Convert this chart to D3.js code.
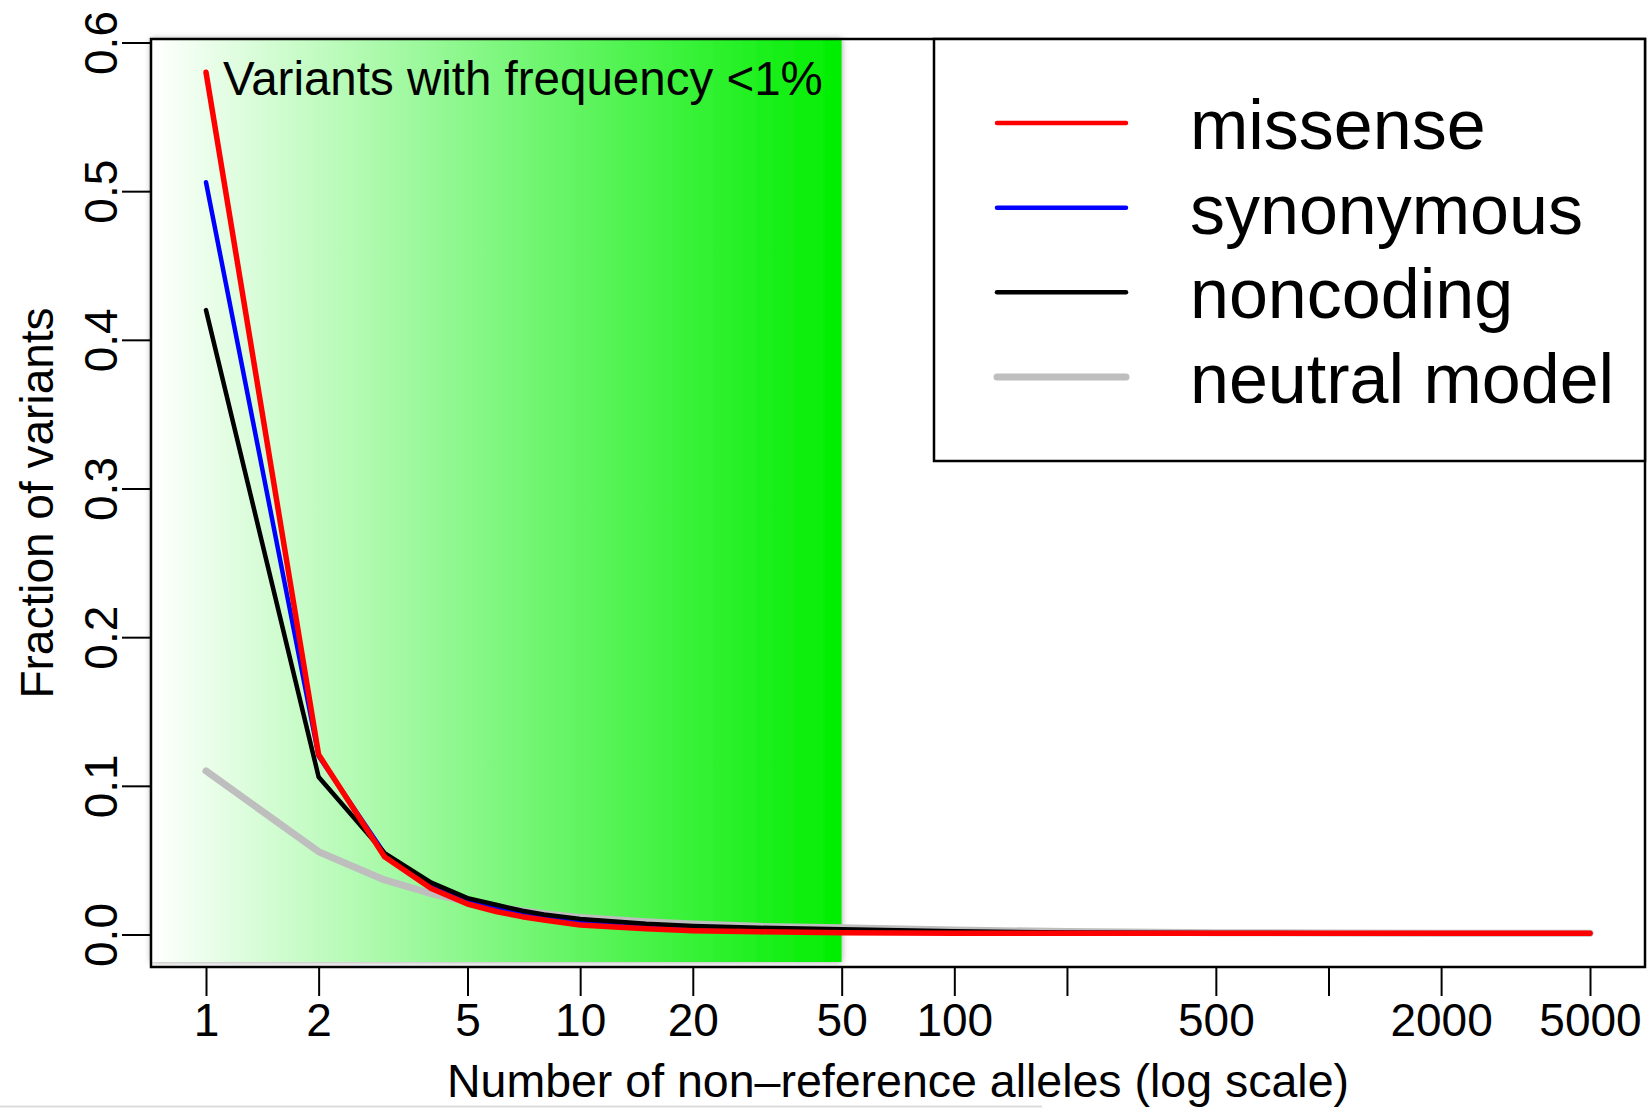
<!DOCTYPE html>
<html>
<head>
<meta charset="utf-8">
<script src="https://cdn.jsdelivr.net/npm/d3@7"></script>
<style>
  body { margin: 0; background: #fff; }
  svg { display: block; font-family: "Liberation Sans", Arial, Helvetica, sans-serif; }
</style>
</head>
<body>
<script>
// number of non-reference alleles (x values)
var alleles = [1, 2, 3, 4, 5, 6, 7, 8, 10, 15, 20, 30, 50, 100, 200, 500, 1000, 2000, 5000];

// fraction of variants
var missense    = [0.580, 0.121, 0.0523, 0.031, 0.0205, 0.0153, 0.012, 0.0097, 0.0064, 0.0038, 0.0026, 0.0018, 0.0012, 0.0009, 0.0008, 0.0008, 0.0008, 0.0008, 0.0008];
var synonymous  = [0.506, 0.120, 0.0545, 0.033, 0.0225, 0.017, 0.0135, 0.011, 0.0085, 0.0055, 0.004, 0.0028, 0.002, 0.0013, 0.001, 0.0009, 0.0008, 0.0008, 0.0008];
var noncoding   = [0.420, 0.106, 0.0548, 0.0349, 0.0245, 0.0198, 0.016, 0.0135, 0.0105, 0.0072, 0.0057, 0.0045, 0.0035, 0.0022, 0.0014, 0.001, 0.0009, 0.0008, 0.0008];
var neutral     = [0.110, 0.0557, 0.0367, 0.0275, 0.022, 0.0185, 0.016, 0.014, 0.0115, 0.0085, 0.007, 0.0055, 0.0045, 0.003, 0.002, 0.0012, 0.001, 0.0009, 0.0008];

var seriesNames = ["missense", "synonymous", "noncoding", "neutral model"];
var xTicks = [1, 2, 5, 10, 20, 50, 100, 200, 500, 1000, 2000, 5000];
var xTickLabels = ["1", "2", "5", "10", "20", "50", "100", "", "500", "", "2000", "5000"];
var yTicks = [0, 0.1, 0.2, 0.3, 0.4, 0.5, 0.6];
var rareCutoff = 50;

var width = 1648, height = 1108;
var box = {left: 151, top: 39, right: 1645, bottom: 967};

var x = d3.scaleLog().domain([1, 5000]).range([206, 1590]);
var y = d3.scaleLinear().domain([0, 0.6]).range([934.5, 42.5]);

var svg = d3.select("body").append("svg")
    .attr("width", width)
    .attr("height", height);

var defs = svg.append("defs");
var grad = defs.append("linearGradient").attr("id", "rare")
    .attr("x1", "0%").attr("x2", "100%").attr("y1", "0%").attr("y2", "0%");
grad.append("stop").attr("offset", "0%").attr("stop-color", "#ffffff");
grad.append("stop").attr("offset", "100%").attr("stop-color", "#00ee00");

var shadow = defs.append("filter").attr("id", "shadow")
    .attr("x", "-5%").attr("y", "-5%").attr("width", "110%").attr("height", "110%");
shadow.append("feDropShadow")
    .attr("dx", 0).attr("dy", 0).attr("stdDeviation", 3)
    .attr("flood-color", "#777").attr("flood-opacity", 0.7);

// faint line at the very bottom of the original image
svg.append("line")
    .attr("x1", 0).attr("x2", 1042).attr("y1", 1106.5).attr("y2", 1106.5)
    .attr("stroke", "#dcdcdc").attr("stroke-width", 2);

// shaded rare-variant region
svg.append("rect")
    .attr("x", box.left)
    .attr("y", box.top)
    .attr("width", x(rareCutoff) - box.left)
    .attr("height", 962 - box.top)
    .attr("fill", "url(#rare)")
    .attr("filter", "url(#shadow)");

svg.append("text")
    .attr("x", 223).attr("y", 95)
    .attr("font-size", 47.5)
    .text("Variants with frequency <1%");

var line = d3.line()
    .x(function(d, i) { return x(alleles[i]); })
    .y(function(d) { return y(d); });

var series = [
  {name: seriesNames[3], values: neutral, color: "#bebebe", w: 7},
  {name: seriesNames[1], values: synonymous, color: "#0000ff", w: 4.5},
  {name: seriesNames[2], values: noncoding, color: "#000000", w: 4.5},
  {name: seriesNames[0], values: missense, color: "#ff0000", w: 5.5}
];

svg.selectAll("path.series")
    .data(series)
  .enter().append("path")
    .attr("class", "series")
    .attr("d", function(s) { return line(s.values); })
    .attr("fill", "none")
    .attr("stroke", function(s) { return s.color; })
    .attr("stroke-width", function(s) { return s.w; })
    .attr("stroke-linecap", "round")
    .attr("stroke-linejoin", "round");

// plot frame
svg.append("rect")
    .attr("x", box.left).attr("y", box.top)
    .attr("width", box.right - box.left).attr("height", box.bottom - box.top)
    .attr("fill", "none").attr("stroke", "#000").attr("stroke-width", 2.5);

// x axis
var xAxis = d3.axisBottom(x)
    .tickValues(xTicks)
    .tickSize(29)
    .tickPadding(7)
    .tickFormat(function(d, i) { return xTickLabels[i]; });

var gx = svg.append("g")
    .attr("transform", "translate(0," + box.bottom + ")")
    .call(xAxis);
gx.select(".domain").remove();
gx.selectAll(".tick line").attr("stroke", "#000").attr("stroke-width", 2);
gx.selectAll(".tick text")
    .attr("font-size", 46)
    .attr("font-family", "Liberation Sans, Arial, sans-serif")
    .attr("fill", "#000");

// y axis, labels rotated as in base R
var yAxis = d3.axisLeft(y)
    .tickValues(yTicks)
    .tickSize(29)
    .tickFormat(d3.format(".1f"));

var gy = svg.append("g")
    .attr("transform", "translate(" + box.left + ",0)")
    .call(yAxis);
gy.select(".domain").remove();
gy.selectAll(".tick line").attr("stroke", "#000").attr("stroke-width", 2);
gy.selectAll(".tick text")
    .attr("font-size", 46)
    .attr("font-family", "Liberation Sans, Arial, sans-serif")
    .attr("fill", "#000")
    .attr("x", null).attr("dy", null)
    .attr("text-anchor", "middle")
    .attr("transform", "translate(-34,0) rotate(-90)");

svg.append("text")
    .attr("x", (box.left + box.right) / 2)
    .attr("y", 1097)
    .attr("text-anchor", "middle")
    .attr("font-size", 46.5)
    .text("Number of non\u2013reference alleles (log scale)");

svg.append("text")
    .attr("transform", "translate(53," + (box.top + box.bottom) / 2 + ") rotate(-90)")
    .attr("text-anchor", "middle")
    .attr("font-size", 46)
    .text("Fraction of variants");

// legend
var legendRows = [
  {name: seriesNames[0], color: "#ff0000", w: 4.5},
  {name: seriesNames[1], color: "#0000ff", w: 4.5},
  {name: seriesNames[2], color: "#000000", w: 4.5},
  {name: seriesNames[3], color: "#bebebe", w: 7}
];
var legendY = d3.scalePoint().domain(seriesNames).range([123, 377]);

var legend = svg.append("g");
legend.append("rect")
    .attr("x", 934).attr("y", box.top)
    .attr("width", box.right - 934).attr("height", 461 - box.top)
    .attr("fill", "#fff").attr("stroke", "#000").attr("stroke-width", 2.5);

var rows = legend.selectAll("g.row")
    .data(legendRows)
  .enter().append("g")
    .attr("class", "row")
    .attr("transform", function(d) { return "translate(0," + legendY(d.name) + ")"; });

rows.append("line")
    .attr("x1", 997).attr("x2", 1126)
    .attr("stroke", function(d) { return d.color; })
    .attr("stroke-width", function(d) { return d.w; })
    .attr("stroke-linecap", "round");

rows.append("text")
    .attr("x", 1190).attr("y", 26)
    .attr("font-size", 70)
    .text(function(d) { return d.name; });
</script>
</body>
</html>
